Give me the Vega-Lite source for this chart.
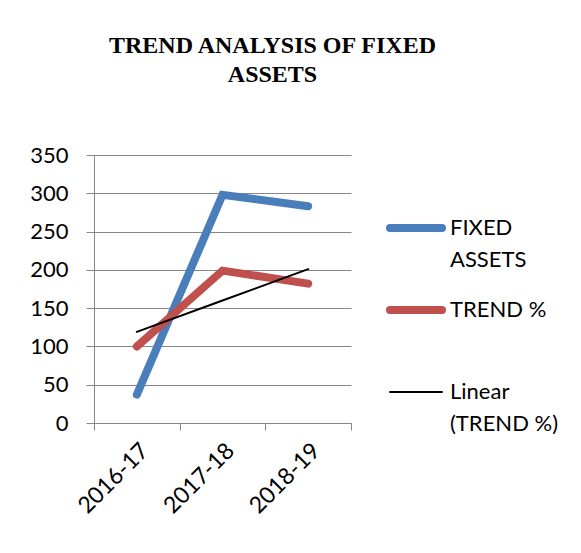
{
  "$schema": "https://vega.github.io/schema/vega-lite/v6.json",
  "autosize": "none",
  "width": 257,
  "height": 268,
  "padding": {"left": 94, "top": 155, "right": 230, "bottom": 130},
  "background": "white",
  "title": {
    "text": ["TREND ANALYSIS OF FIXED", "ASSETS"],
    "font": "Liberation Serif",
    "fontSize": 24,
    "fontWeight": "bold",
    "color": "black",
    "lineHeight": 29,
    "anchor": "middle",
    "frame": "group",
    "dx": 50,
    "offset": 57
  },
  "data": {
    "values": [
      {"year": "2016-17", "series": "FIXED ASSETS", "value": 37},
      {"year": "2017-18", "series": "FIXED ASSETS", "value": 298},
      {"year": "2018-19", "series": "FIXED ASSETS", "value": 283},
      {"year": "2016-17", "series": "TREND %", "value": 100},
      {"year": "2017-18", "series": "TREND %", "value": 199},
      {"year": "2018-19", "series": "TREND %", "value": 182},
      {"year": "2016-17", "series": "Linear (TREND %)", "value": 119},
      {"year": "2017-18", "series": "Linear (TREND %)", "value": 160},
      {"year": "2018-19", "series": "Linear (TREND %)", "value": 201}
    ]
  },
  "mark": {"type": "line", "strokeCap": "round", "strokeJoin": "miter"},
  "encoding": {
    "x": {
      "field": "year",
      "type": "ordinal",
      "title": null,
      "scale": {"type": "band", "paddingInner": 0, "paddingOuter": 0},
      "axis": {
        "tickBand": "extent",
        "labelAngle": -45,
        "labelFont": "Lato",
        "labelFontSize": 23,
        "labelColor": "black",
        "labelPadding": 9,
        "tickSize": 7,
        "tickColor": "#868686",
        "domainColor": "#868686",
        "grid": false
      }
    },
    "y": {
      "field": "value",
      "type": "quantitative",
      "title": null,
      "scale": {"domain": [0, 350], "nice": false},
      "axis": {
        "values": [0, 50, 100, 150, 200, 250, 300, 350],
        "labelFont": "Lato",
        "labelFontSize": 22,
        "labelColor": "black",
        "labelPadding": 18,
        "tickSize": 8,
        "tickColor": "#868686",
        "domainColor": "#868686",
        "gridColor": "#868686",
        "gridOpacity": 1
      }
    },
    "color": {
      "field": "series",
      "type": "nominal",
      "sort": null,
      "scale": {
        "domain": ["FIXED ASSETS", "TREND %", "Linear (TREND %)"],
        "range": ["#4a7ebb", "#c0504d", "#000000"]
      },
      "legend": {
        "title": null,
        "orient": "none",
        "legendX": 311,
        "legendY": 62,
        "gridAlign": "all",
        "rowPadding": 23,
        "symbolType": "stroke",
        "symbolSize": 2704,
        "symbolStrokeWidth": 8,
        "labelFont": "Lato",
        "labelFontSize": 22,
        "labelColor": "black",
        "labelBaseline": "middle",
        "labelOffset": 23,
        "labelLimit": 300,
        "labelExpr": "datum.label == 'FIXED ASSETS' ? ['FIXED', 'ASSETS'] : datum.label == 'Linear (TREND %)' ? ['Linear', '(TREND %)'] : ['TREND %', ' ']",
        "encode": {
          "symbols": {
            "update": {
              "strokeWidth": {"signal": "datum.value == 'Linear (TREND %)' ? 2 : 8"},
              "strokeCap": {"value": "round"}
            }
          },
          "labels": {
            "update": {
              "lineHeight": {"value": 32}
            }
          }
        }
      }
    },
    "strokeWidth": {
      "condition": {"test": "datum.series == 'Linear (TREND %)'", "value": 2},
      "value": 8
    }
  },
  "config": {
    "view": {"stroke": null},
    "axis": {"domainWidth": 1, "tickWidth": 1, "gridWidth": 1}
  }
}
